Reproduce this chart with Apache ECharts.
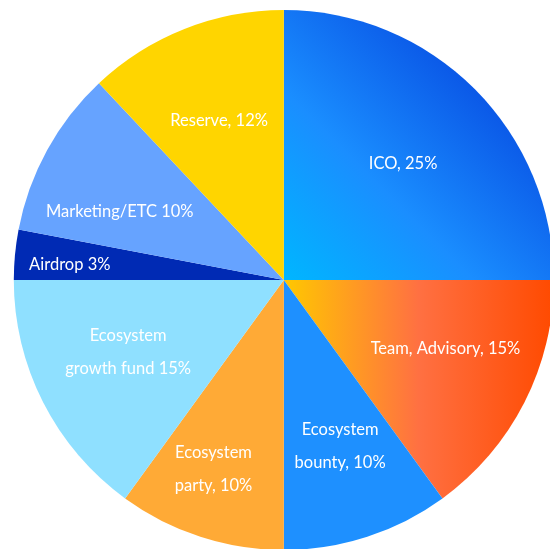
<!DOCTYPE html>
<html>
<head>
<meta charset="utf-8">
<script src="https://cdn.jsdelivr.net/npm/echarts@6/dist/echarts.min.js"></script>
<style>
html,body{margin:0;padding:0;background:#fff;}
#main{width:550px;height:549px;}
</style>
</head>
<body>
<div id="main"></div>
<script>
const categories = ['ICO', 'Team, Advisory', 'Ecosystem bounty', 'Ecosystem party', 'Ecosystem growth fund', 'Airdrop', 'Marketing/ETC', 'Reserve'];
const values = [25, 15, 10, 10, 15, 3, 10, 12];
const labelTexts = ['ICO, 25%', 'Team, Advisory, 15%', 'Ecosystem\nbounty, 10%', 'Ecosystem\nparty, 10%', 'Ecosystem\ngrowth fund 15%', 'Airdrop 3%', 'Marketing/ETC 10%', 'Reserve, 12%'];

const colors = [
  {type:'linear', x:0, y:1, x2:1, y2:0, colorStops:[
    {offset:0, color:'#00b6ff'}, {offset:0.35, color:'#1a8eff'}, {offset:0.7, color:'#0b5ae8'}, {offset:1, color:'#003cd8'}]},
  {type:'linear', x:0, y:0, x2:1, y2:0, colorStops:[
    {offset:0, color:'#ffc800'}, {offset:0.5, color:'#ff7042'}, {offset:1, color:'#ff4a00'}]},
  '#1e90ff', '#ffaa36', '#8fe0ff', '#002ab4', '#66a3ff', '#ffd500'
];

// small label nudges (style only)
const nudge = [[-5, 8], [5, -11], [2, -1], [-16, 22], [1, -8], [-39, 1], [-10, 16], [0, 4]];

const chart = echarts.init(document.getElementById('main'));
const center = ['51.6%', '51%'];
const R = 270;
chart.setOption({
  animation: false,
  series: [
    {
      type: 'pie',
      center: center,
      radius: [0, R],
      startAngle: 90,
      clockwise: true,
      silent: true,
      label: {show: false},
      labelLine: {show: false},
      data: categories.map((c, i) => ({name: c, value: values[i], itemStyle: {color: colors[i]}}))
    },
    {
      type: 'pie',
      center: center,
      radius: [0, R * 1.28],
      startAngle: 90,
      clockwise: true,
      silent: true,
      itemStyle: {color: 'rgba(0,0,0,0)'},
      labelLine: {show: false},
      label: {
        show: true,
        position: 'inside',
        color: '#ffffff',
        fontFamily: 'Lato',
        fontSize: 16.5,
        lineHeight: 33,
        formatter: p => labelTexts[p.dataIndex]
      },
      labelLayout: p => ({dx: nudge[p.dataIndex][0], dy: nudge[p.dataIndex][1]}),
      data: categories.map((c, i) => ({name: c, value: values[i]}))
    }
  ]
});
</script>
</body>
</html>
